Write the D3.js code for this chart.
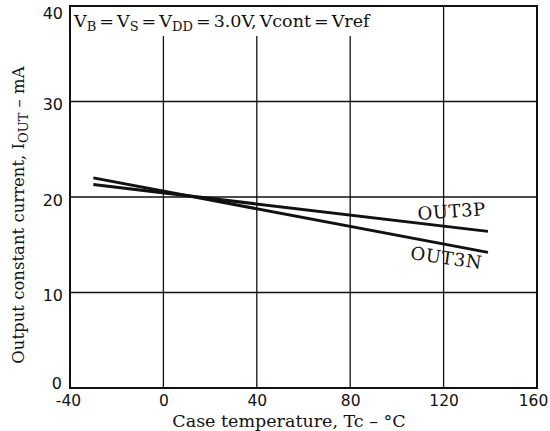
<!DOCTYPE html>
<html><head><meta charset="utf-8">
<script src="https://cdn.jsdelivr.net/npm/d3@7"></script>
<style>body{margin:0;background:#fff}</style>
</head><body>
<svg id="c" width="550" height="431"></svg>
<script>
const xTicks = [-40, 0, 40, 80, 120, 160];
const yTicks = [0, 10, 20, 30, 40];
const seriesNames = ["OUT3P", "OUT3N"];
const temps = [-30, 139];
const out3p = [21.3, 16.4];
const out3n = [22.0, 14.2];

const svg = d3.select("#c");
const L = 70, R = 537, T = 6, B = 388;
const x = d3.scaleLinear().domain([-40, 160]).range([L, R]);
const y = d3.scaleLinear().domain([0, 40]).range([B, T]);
const serif = "'DejaVu Serif','Liberation Serif',serif";
const sans = "'DejaVu Sans','Liberation Sans',sans-serif";
const ink = "#111";

// grid
svg.append("g").selectAll("line").data(xTicks.slice(1, -1)).join("line")
  .attr("x1", d => x(d)).attr("x2", d => x(d)).attr("y1", T).attr("y2", B)
  .attr("stroke", ink).attr("stroke-width", 1.3);
svg.append("g").selectAll("line").data(yTicks.slice(1, -1)).join("line")
  .attr("x1", L).attr("x2", R).attr("y1", d => y(d)).attr("y2", d => y(d))
  .attr("stroke", ink).attr("stroke-width", 1.3);

// condition box
svg.append("rect").attr("x", L + 1).attr("y", T + 1).attr("width", 355).attr("height", 29).attr("fill", "#fff");
const cond = svg.append("text").attr("x", L + 4).attr("y", T + 21)
  .attr("font-family", serif).attr("font-size", 17.5).attr("word-spacing", -2.5).attr("fill", ink);
cond.append("tspan").text("V");
cond.append("tspan").attr("font-size", 13).attr("dy", 4).text("B");
cond.append("tspan").attr("dy", -4).text(" = V");
cond.append("tspan").attr("font-size", 13).attr("dy", 4).text("S");
cond.append("tspan").attr("dy", -4).text(" = V");
cond.append("tspan").attr("font-size", 13).attr("dy", 4).text("DD");
cond.append("tspan").attr("dy", -4).text(" = 3.0V, Vcont = Vref");

// frame
svg.append("rect").attr("x", L).attr("y", T).attr("width", R - L).attr("height", B - T)
  .attr("fill", "none").attr("stroke", ink).attr("stroke-width", 2);

// axes tick labels
const xa = svg.append("g").attr("transform", `translate(0,${B})`)
  .call(d3.axisBottom(x).tickValues(xTicks).tickSize(0).tickPadding(7).tickFormat(d => d));
xa.select(".domain").remove();
xa.selectAll("text").attr("font-family", sans).attr("font-size", 15.5).attr("fill", ink);
xa.selectAll(".tick").filter(d => d === 160).select("text").attr("dx", -4);
xa.selectAll(".tick").filter(d => d === -40).select("text").attr("dx", -2);
const ya = svg.append("g").attr("transform", `translate(${L},0)`)
  .call(d3.axisLeft(y).tickValues(yTicks).tickSize(0).tickPadding(7).tickFormat(d => d));
ya.select(".domain").remove();
ya.selectAll("text").attr("font-family", sans).attr("font-size", 16).attr("fill", ink).attr("dy", "0.52em");
ya.selectAll(".tick").filter(d => d === 0).select("text").attr("dy", "0.05em").attr("dx", "-1");
ya.selectAll(".tick").filter(d => d === 40).select("text").attr("dy", "0.8em");

// lines
const line = d3.line().x(d => x(d[0])).y(d => y(d[1]));
[out3p, out3n].forEach(vals => {
  svg.append("path").datum(temps.map((t, i) => [t, vals[i]]))
    .attr("d", line).attr("fill", "none").attr("stroke", ink).attr("stroke-width", 3);
});

// series labels
svg.append("text").attr("transform", `translate(${x(109)},${y(17.6)}) rotate(-4)`)
  .attr("font-family", serif).attr("font-size", 18).attr("letter-spacing", 0.6).attr("fill", ink).text(seriesNames[0]);
svg.append("text").attr("transform", `translate(${x(105.5)},${y(13.5)}) rotate(8)`)
  .attr("font-family", serif).attr("font-size", 18).attr("letter-spacing", 0.6).attr("fill", ink).text(seriesNames[1]);

// axis titles
svg.append("text").attr("x", 289).attr("y", 427).attr("text-anchor", "middle")
  .attr("font-family", serif).attr("font-size", 17.5).attr("fill", ink).text("Case temperature, Tc – °C");
const yt = svg.append("text").attr("transform", `translate(24,${215}) rotate(-90)`)
  .attr("text-anchor", "middle").attr("font-family", serif).attr("font-size", 16.5).attr("fill", ink);
yt.append("tspan").text("Output constant current, I");
yt.append("tspan").attr("font-size", 13).attr("dy", 4).text("OUT");
yt.append("tspan").attr("dy", -4).text(" – mA");
</script>
</body></html>
